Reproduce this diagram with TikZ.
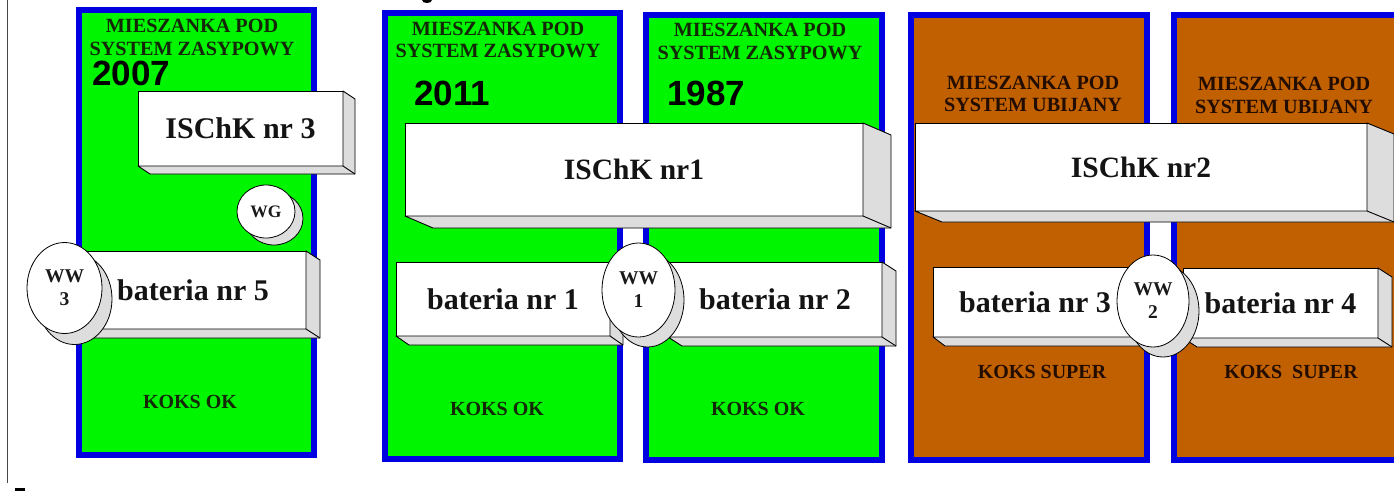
\documentclass[tikz,border=0pt]{standalone}
\usepackage{fontspec}
\setmainfont{Liberation Serif}
\newfontfamily\arialf{Liberation Sans}
\usetikzlibrary{shapes.geometric,calc}
\definecolor{panelgreen}{RGB}{0,245,0}
\definecolor{panelbrown}{RGB}{192,96,0}
\definecolor{panelblue}{RGB}{0,0,225}
\definecolor{extrgray}{RGB}{221,221,221}
\definecolor{txtgreen}{RGB}{20,40,5}
\definecolor{txtbrown}{RGB}{35,12,0}
\definecolor{edgegray}{RGB}{70,70,70}

\tikzset{
  panelG/.style={fill=panelgreen, draw=panelblue, line width=6pt},
  panelB/.style={fill=panelbrown, draw=panelblue, line width=6pt},
  frontbox/.style={rectangle, draw=black, fill=white, line width=1pt, inner sep=0pt, outer sep=0pt,
    font=\fontsize{30}{36}\selectfont\bfseries, text=black!92},
  extr/.style={draw=black, fill=extrgray, line width=0.9pt, line join=round},
  discshadow/.style={ellipse, draw=black, fill=extrgray, line width=0.8pt, inner sep=0pt, outer sep=0pt},
  discfront/.style={ellipse, draw=black, fill=white, line width=0.8pt, inner sep=0pt, outer sep=0pt,
    align=center, font=\fontsize{19.5}{23}\selectfont\bfseries, text=black!90},
  ttlG/.style={align=center, inner sep=0pt, font=\fontsize{20.2}{22.8}\selectfont\bfseries, text=txtgreen},
  ttlB/.style={align=center, inner sep=0pt, font=\fontsize{20.2}{22.8}\selectfont\bfseries, text=txtbrown},
  koksG/.style={inner sep=0pt, font=\fontsize{20}{24}\selectfont\bfseries, text=txtgreen},
  koksB/.style={inner sep=0pt, font=\fontsize{20}{24}\selectfont\bfseries, text=txtbrown},
  yearlbl/.style={inner sep=0pt, anchor=base west, font=\arialf\fontsize{35}{40}\selectfont\bfseries, text=black},
}

% name, x1, y1, x2, y2, dx, dy, text
\newcommand\tdbox[8]{%
  \node[frontbox, minimum width={(#4-#2)*1pt}, minimum height={(#5-#3)*1pt}] (#1) at ({(#2+#4)/2},{(#3+#5)/2}) {#8};
  \draw[extr] (#1.north east) -- ++(#6,#7) -- ($(#1.south east)+(#6,#7)$) -- ($(#1.south west)+(#6,#7)$) -- (#1.south west) -- (#1.south east) -- cycle;
  \draw[line width=0.9pt] (#1.south east) -- ++(#6,#7);
}
% name, cx, cy, rx, ry, dx, dy, text
\newcommand\wwdisc[8]{%
  \node[discshadow, minimum width={2*#4*1pt}, minimum height={2*#5*1pt}] (#1s) at ({#2+#6},{#3+#7}) {};
  \node[discfront, minimum width={2*#4*1pt}, minimum height={2*#5*1pt}] (#1) at (#2,#3) {#8};
}

\begin{document}
\begin{tikzpicture}[x=1pt, y=-1pt]
\useasboundingbox (0,0) rectangle (1394,491);
\clip (0,0) rectangle (1394,491);
\fill[white] (0,0) rectangle (1394,491);

% left frame line and fragments
\draw[edgegray, line width=1.6pt] (7.5,0) -- (7.5,483);
\fill[black] (15,487.5) rectangle (25,491);
\fill[black] (422,0) .. controls (422,4) and (432,4) .. (432,0) -- cycle;

% panels
\draw[panelG] (79,10) rectangle (314,455);
\draw[panelG] (385,13) rectangle (620,459);
\draw[panelG] (646,15) rectangle (882,460);
\draw[panelB] (911,15) rectangle (1147,460);
\draw[panelB] (1174,15) rectangle (1420,460);

% titles
\node[ttlG] (ttl1) at (192,37.3) {MIESZANKA POD\\SYSTEM ZASYPOWY};
\node[ttlG] (ttl2) at (498,40) {MIESZANKA POD\\SYSTEM ZASYPOWY};
\node[ttlG] (ttl3) at (760,41.3) {MIESZANKA POD\\SYSTEM ZASYPOWY};
\node[ttlB] (ttl4) at (1033,94) {MIESZANKA POD\\SYSTEM UBIJANY};
\node[ttlB] (ttl5) at (1284,95.3) {MIESZANKA POD\\SYSTEM UBIJANY};

% years
\node[yearlbl] (y1) at (92,85) {2007};
\node[yearlbl] (y2) at (414,105) {2011};
\node[yearlbl] (y3) at (667,105) {1987};

% ISChK boxes
\tdbox{isk3}{138}{91}{343}{166}{12}{8}{ISChK nr 3}
\tdbox{isk1}{405}{123}{863}{216}{28}{12}{\fontsize{29.5}{34}\selectfont ISChK nr1}
\tdbox{isk2}{915}{123}{1367}{211}{27}{11}{\fontsize{29.5}{34}\selectfont ISChK nr2}

% WG
\wwdisc{wg}{266}{211.5}{29}{26.5}{8}{7}{\fontsize{17.5}{20}\selectfont WG}

% batteries
\tdbox{bat5}{80}{251}{306}{329}{14}{9}{bateria nr 5}
\tdbox{bat1}{396}{262}{610}{336}{13}{9}{bateria nr 1}
\tdbox{bat2}{668}{262}{882}{337}{14}{9}{bateria nr 2}
\tdbox{bat3}{933}{267}{1137}{337}{12}{9}{bateria nr 3}
\tdbox{bat4}{1183}{268}{1378}{338}{14}{9}{bateria nr 4}

% WW discs
\wwdisc{ww3}{64.5}{288}{37.5}{45.5}{10}{11}{WW\\3}
\wwdisc{ww1}{638.5}{290}{36.5}{47}{9}{10}{WW\\1}
\wwdisc{ww2}{1153}{301}{36}{46}{10}{10}{WW\\2}

% KOKS labels
\node[koksG] (k1) at (190,401.7) {KOKS OK};
\node[koksG] (k2) at (497,409) {KOKS OK};
\node[koksG] (k3) at (758,409) {KOKS OK};
\node[koksB] (k4) at (1042,372) {KOKS SUPER};
\node[koksB] (k5) at (1291,372) {KOKS\ \ SUPER};
\end{tikzpicture}
\end{document}
